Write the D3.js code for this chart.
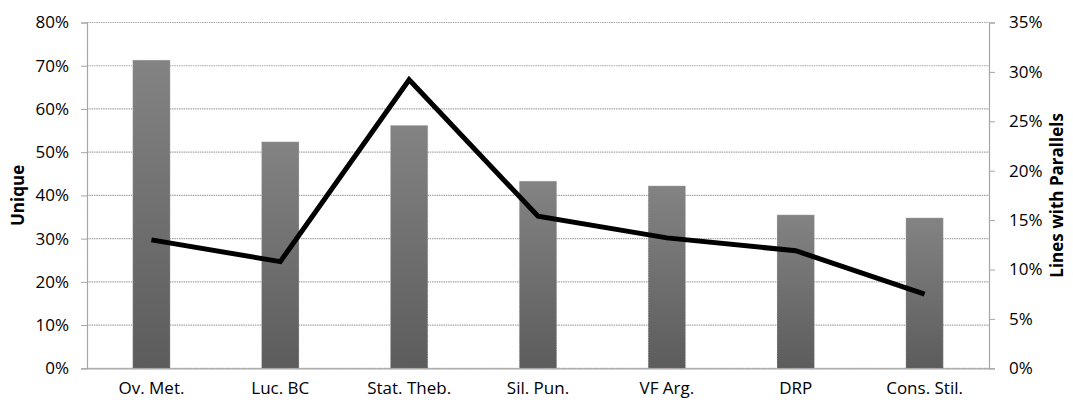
<!DOCTYPE html>
<html><head><meta charset="utf-8">
<script src="https://cdn.jsdelivr.net/npm/d3@7"></script>
<style>body{margin:0;background:#fff;}svg{display:block;}svg text{font-family:"Open Sans",sans-serif;}</style>
</head><body><svg id="c" width="1073" height="404"></svg>
<script>
const categories = ["Ov. Met.","Luc. BC","Stat. Theb.","Sil. Pun.","VF Arg.","DRP","Cons. Stil."];
const uniqueVals = [0.713,0.524,0.562,0.433,0.422,0.355,0.348];
const parallelVals = [0.130,0.108,0.292,0.154,0.132,0.119,0.075];
const leftTicks = [0,0.1,0.2,0.3,0.4,0.5,0.6,0.7,0.8];
const rightTicks = [0,0.05,0.1,0.15,0.2,0.25,0.3,0.35];

const FONT = '"Open Sans", sans-serif';
const svg = d3.select("#c");
const L=87, R=989, T=22.5, B=368.3;
const x = d3.scaleBand().domain(categories).range([L,R]).paddingInner(0.71).paddingOuter(0.355);
const yL = d3.scaleLinear().domain([0,0.8]).range([B,T]);
const yR = d3.scaleLinear().domain([0,0.35]).range([B,T]);

const defs = svg.append("defs");
const g = defs.append("linearGradient").attr("id","bg").attr("x1",0).attr("y1",0).attr("x2",0).attr("y2",1);
g.append("stop").attr("offset","0%").attr("stop-color","#838383");
g.append("stop").attr("offset","100%").attr("stop-color","#5c5c5c");

// gridlines
svg.append("g").selectAll("line").data(leftTicks).join("line")
  .attr("x1",L).attr("x2",R).attr("y1",d=>yL(d)).attr("y2",d=>yL(d))
  .attr("stroke","#a6a6a6").attr("stroke-width",1.2).attr("stroke-dasharray","1.5,0.8");

// bars
svg.append("g").selectAll("rect").data(uniqueVals).join("rect")
  .attr("x",(d,i)=>x(categories[i])).attr("width",x.bandwidth())
  .attr("y",d=>yL(d)).attr("height",d=>B-yL(d))
  .attr("fill","url(#bg)").attr("stroke","#d0d0d0").attr("stroke-width",0.6).attr("stroke-dasharray","1,1.5");

// left axis
const la = svg.append("g").attr("transform",`translate(${L},0)`)
  .call(d3.axisLeft(yL).tickValues(leftTicks).tickFormat(d3.format(".0%")).tickSize(6).tickPadding(12));
la.attr("font-family",FONT);
la.select(".domain").attr("stroke","#a6a6a6").attr("stroke-width",1.2);
la.selectAll(".tick line").attr("stroke","#a6a6a6");
la.selectAll("text").attr("font-size",17).attr("fill","#000");

// right axis
const ra = svg.append("g").attr("transform",`translate(${R},0)`)
  .call(d3.axisRight(yR).tickValues(rightTicks).tickFormat(d3.format(".0%")).tickSize(6).tickPadding(14));
ra.attr("font-family",FONT);
ra.select(".domain").attr("stroke","#a6a6a6").attr("stroke-width",1.2);
ra.selectAll(".tick line").attr("stroke","#a6a6a6");
ra.selectAll("text").attr("font-size",17).attr("fill","#000");

// bottom axis
const ba = svg.append("g").attr("transform",`translate(0,${B})`)
  .call(d3.axisBottom(x).tickSize(0).tickPadding(14));
ba.attr("font-family",FONT);
ba.select(".domain").attr("stroke","#a6a6a6").attr("stroke-width",1.2);
ba.selectAll("text").attr("font-size",17).attr("fill","#000");

// line
svg.append("path").datum(parallelVals)
  .attr("d",d3.line().x((d,i)=>x(categories[i])+x.bandwidth()/2).y(d=>yR(d)))
  .attr("fill","none").attr("stroke","#000").attr("stroke-width",5).attr("stroke-linejoin","miter");

// axis titles
svg.append("text").attr("transform",`translate(24,${(T+B)/2}) rotate(-90)`)
  .attr("text-anchor","middle").attr("font-size",17).attr("font-weight","bold").text("Unique");
svg.append("text").attr("transform",`translate(1063,${(T+B)/2}) rotate(-90)`)
  .attr("text-anchor","middle").attr("font-size",17).attr("font-weight","bold").text("Lines with Parallels");
</script></body></html>
